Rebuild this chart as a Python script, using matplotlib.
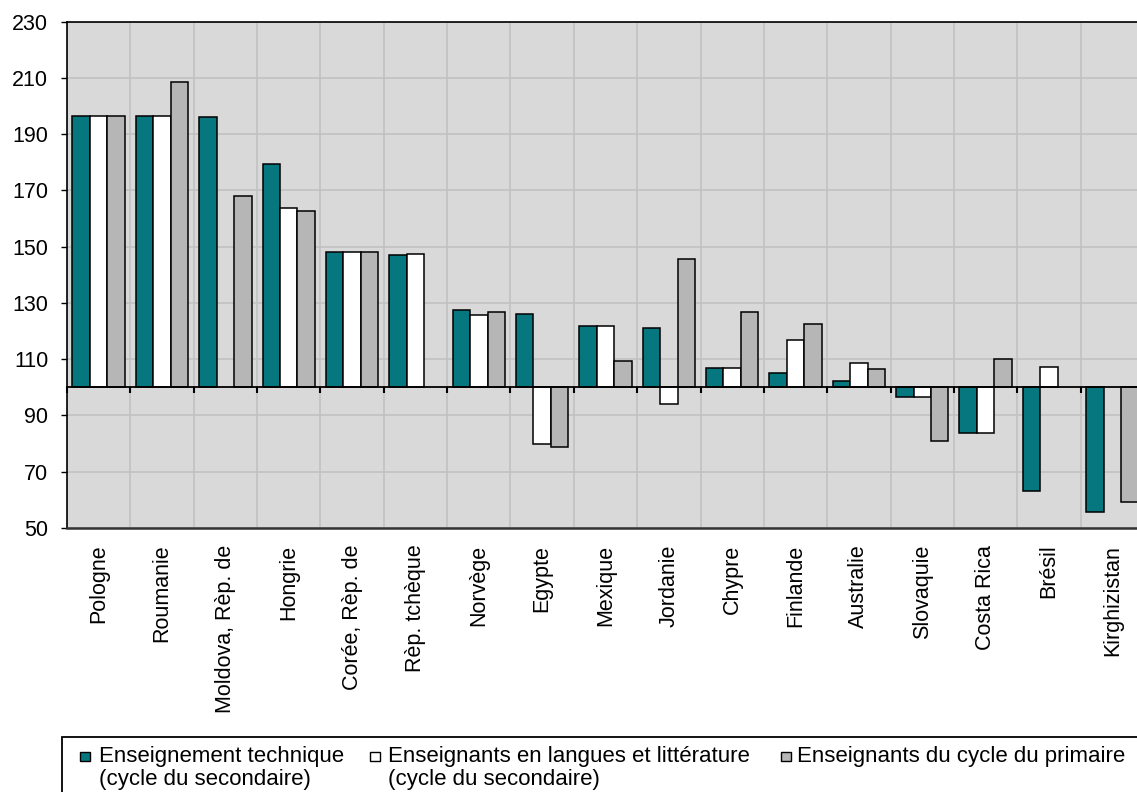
import matplotlib
matplotlib.use("Agg")
import matplotlib.pyplot as plt
import numpy as np
from matplotlib.patches import Rectangle

nan = np.nan

countries = ["Pologne", "Roumanie", "Moldova, Rèp. de", "Hongrie", "Corée, Rèp. de",
             "Rèp. tchèque", "Norvège", "Egypte", "Mexique", "Jordanie", "Chypre",
             "Finlande", "Australie", "Slovaquie", "Costa Rica", "Brésil", "Kirghizistan"]

technique = [196.6, 196.6, 196.1, 179.3, 148.0, 147.0, 127.4, 126.2, 121.8, 121.2,
             106.8, 105.1, 102.2, 96.6, 83.8, 63.3, 55.8]
langues = [196.6, 196.6, nan, 163.7, 148.0, 147.5, 125.7, 79.9, 121.8, 94.0,
           106.8, 116.9, 108.8, 96.6, 83.8, 107.1, nan]
primaire = [196.6, 208.5, 168.1, 162.7, 148.0, nan, 126.9, 78.8, 109.4, 145.8,
            126.9, 122.4, 106.7, 81.0, 110.0, nan, 59.2]

series_labels = ["Enseignement technique\n(cycle du secondaire)",
                 "Enseignants en langues et littérature\n(cycle du secondaire)",
                 "Enseignants du cycle du primaire"]
series_colors = ["#06777f", "#ffffff", "#b6b6b6"]

y_ticks = list(range(50, 231, 20))
baseline = 100

plt.rcParams["font.family"] = ["Liberation Sans", "DejaVu Sans"]
plt.rcParams["font.size"] = 15

W, H = 1137, 792
fig = plt.figure(figsize=(W / 100, H / 100), dpi=100)
fig.patch.set_facecolor("white")

left, right, top, bottom = 67, 1144, 21.7, 528
ax = fig.add_axes([left / W, 1 - bottom / H, (right - left) / W, (bottom - top) / H])
ax.set_facecolor("#d9d9d9")

n = len(countries)
x = np.arange(n)
w = 0.276
for k, (vals, col) in enumerate(zip([technique, langues, primaire], series_colors)):
    v = np.array(vals, dtype=float)
    ok = ~np.isnan(v)
    ax.bar(x[ok] + (k - 1) * w, v[ok] - baseline, bottom=baseline, width=w,
           color=col, edgecolor="black", linewidth=1.1, zorder=3)

ax.set_xlim(-0.5, n - 0.5)
ax.set_ylim(50, 230)
ax.set_yticks(y_ticks)
ax.tick_params(axis="y", length=4.5, width=1, pad=9, labelsize=15.5)

ax.set_xticks(x)
ax.set_xticklabels(countries, rotation=90, fontsize=15.5)
ax.tick_params(axis="x", which="major", length=0, pad=12)
bounds = np.arange(n + 1) - 0.5
ax.set_xticks(bounds, minor=True)
ax.tick_params(axis="x", which="minor", length=0)

ax.set_axisbelow(True)
ax.grid(axis="y", which="major", color="#c0c0c0", linewidth=1.1)
ax.grid(axis="x", which="minor", color="#c0c0c0", linewidth=1.1)

for s in ["left", "top"]:
    ax.spines[s].set_color("black")
    ax.spines[s].set_linewidth(1.2)
ax.spines["bottom"].set_color("#333333")
ax.spines["bottom"].set_linewidth(1.8)
ax.spines["right"].set_visible(False)

# category axis drawn through the 100 baseline
sec = ax.secondary_xaxis((baseline - 50) / (230 - 50))
sec.set_xticks(bounds)
sec.set_xticklabels([])
sec.tick_params(axis="x", length=4, width=1.5, direction="out", color="black")
sec.spines["bottom"].set_color("black")
sec.spines["bottom"].set_linewidth(1.3)
sec.set_zorder(4)

# legend panel
def fx(px):
    return px / W

def fy(py):
    return 1 - py / H

fig.patches.append(Rectangle((fx(61.7), fy(800)), fx(1160) - fx(61.7), fy(736.7) - fy(800),
                             transform=fig.transFigure, fill=False, edgecolor="black",
                             linewidth=1.3))
marker_x = [80, 370, 781]
text_x = [99, 388, 797]
for mx, tx, lab, col in zip(marker_x, text_x, series_labels, series_colors):
    fig.patches.append(Rectangle((fx(mx), fy(761)), 9.5 / W, 9 / H, transform=fig.transFigure,
                                 facecolor=col, edgecolor="black", linewidth=1.0))
    fig.text(fx(tx), fy(746), lab, ha="left", va="top", fontsize=16, linespacing=1.12)

fig.savefig("out.png", dpi=100)
